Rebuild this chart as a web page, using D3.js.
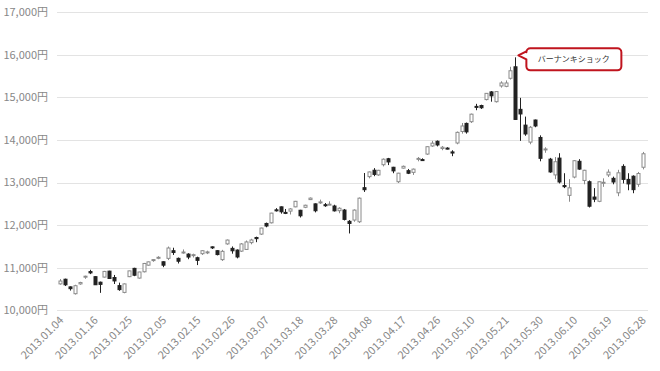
<!DOCTYPE html>
<html>
<head>
<meta charset="UTF-8">
<title>日経平均 2013</title>
<style>
  body { margin: 0; background: #fff; }
  svg text { font-family: "Noto Sans CJK JP", sans-serif; }
  .ylab { font-size: 11px; fill: #888; }
  .xlab { font-size: 11px; fill: #888; }
  .grid line { stroke: #e3e3e3; stroke-width: 1; }
</style>
<script src="https://d3js.org/d3.v7.min.js"></script>
</head>
<body>
<svg width="660" height="371"></svg>
<script>
// trading days (Nikkei 225, Jan-Jun 2013)
var dates = [
  "2013.01.04","2013.01.07","2013.01.08","2013.01.09","2013.01.10","2013.01.11","2013.01.15","2013.01.16","2013.01.17","2013.01.18",
  "2013.01.21","2013.01.22","2013.01.23","2013.01.24","2013.01.25","2013.01.28","2013.01.29","2013.01.30","2013.01.31","2013.02.01",
  "2013.02.04","2013.02.05","2013.02.06","2013.02.07","2013.02.08","2013.02.12","2013.02.13","2013.02.14","2013.02.15","2013.02.18",
  "2013.02.19","2013.02.20","2013.02.21","2013.02.22","2013.02.25","2013.02.26","2013.02.27","2013.02.28","2013.03.01","2013.03.04",
  "2013.03.05","2013.03.06","2013.03.07","2013.03.08","2013.03.11","2013.03.12","2013.03.13","2013.03.14","2013.03.15","2013.03.18",
  "2013.03.19","2013.03.21","2013.03.22","2013.03.25","2013.03.26","2013.03.27","2013.03.28","2013.03.29","2013.04.01","2013.04.02",
  "2013.04.03","2013.04.04","2013.04.05","2013.04.08","2013.04.09","2013.04.10","2013.04.11","2013.04.12","2013.04.15","2013.04.16",
  "2013.04.17","2013.04.18","2013.04.19","2013.04.22","2013.04.23","2013.04.24","2013.04.25","2013.04.26","2013.04.30","2013.05.01",
  "2013.05.02","2013.05.07","2013.05.08","2013.05.09","2013.05.10","2013.05.13","2013.05.14","2013.05.15","2013.05.16","2013.05.17",
  "2013.05.20","2013.05.21","2013.05.22","2013.05.23","2013.05.24","2013.05.27","2013.05.28","2013.05.29","2013.05.30","2013.05.31",
  "2013.06.03","2013.06.04","2013.06.05","2013.06.06","2013.06.07","2013.06.10","2013.06.11","2013.06.12","2013.06.13","2013.06.14",
  "2013.06.17","2013.06.18","2013.06.19","2013.06.20","2013.06.21","2013.06.24","2013.06.25","2013.06.26","2013.06.27","2013.06.28"
];
var open = [
  10620,10730,10550,10390,10620,10780,10910,10790,10660,10780,
  10920,10770,10580,10420,10790,10985,10757,10905,11060,11170,
  11240,11140,11220,11400,11220,11360,11320,11290,11235,11330,
  11370,11490,11400,11190,11560,11455,11415,11390,11430,11590,
  11710,11790,12040,12055,12360,12430,12300,12330,12430,12350,
  12420,12600,12500,12540,12480,12490,12450,12340,12355,12090,
  12120,12080,12880,13140,13290,13180,13420,13560,13360,13020,
  13340,13280,13240,13550,13540,13670,13860,13970,13800,13810,
  13720,13930,14200,14390,14430,14790,14810,14950,15130,14900,
  15270,15260,15450,15720,14720,14350,13950,14470,14060,13780,
  13550,13180,13575,12930,12700,13130,13500,13050,13020,12660,
  12560,13000,13180,13100,12760,13380,13075,13150,12960,13360
];
var high = [
  10734,10743,10560,10600,10670,10813,10952,10800,10674,10926,
  10929,10830,10650,10632,10930,10999,10905,11113,11145,11200,
  11270,11150,11498,11470,11240,11430,11340,11330,11260,11410,
  11400,11500,11410,11420,11662,11500,11430,11580,11640,11680,
  11730,11940,12060,12290,12400,12440,12380,12400,12570,12360,
  12480,12650,12510,12600,12520,12560,12480,12420,12380,12120,
  12370,12650,13225,13260,13340,13300,13568,13580,13370,13230,
  13400,13320,13330,13600,13570,13850,13980,13990,13860,13830,
  13760,14200,14400,14410,14620,14850,14830,15100,15150,15140,
  15380,15400,15720,15942,14990,14550,14330,14480,14110,13830,
  13580,13600,13690,13220,13080,13530,13550,13300,13050,12870,
  13020,13100,13310,13140,13300,13430,13220,13170,13250,13720
];
var low = [
  10602,10570,10463,10370,10600,10740,10850,10594,10410,10770,
  10742,10618,10458,10400,10780,10802,10743,10890,11048,11140,
  11200,11013,11180,11300,11100,11330,11200,11240,11062,11300,
  11320,11440,11290,11160,11540,11330,11220,11370,11420,11550,
  11600,11770,11950,12040,12320,12270,12260,12250,12420,12180,
  12400,12590,12300,12500,12430,12470,12320,12280,12110,11805,
  12080,12050,12780,13100,13150,13160,13380,13411,13220,12990,
  13330,13200,13180,13500,13510,13650,13840,13850,13760,13780,
  13620,13900,14150,14150,14400,14700,14730,14930,14900,14880,
  15230,15240,15420,14470,13980,14100,13900,14300,13500,13700,
  13230,13080,12980,12870,12550,13100,13300,12960,12415,12540,
  12540,12900,13130,12960,12680,12980,12820,12750,12900,13310
];
var close = [
  10688,10599,10508,10578,10652,10801,10879,10600,10609,10913,
  10747,10690,10486,10620,10926,10824,10900,11100,11138,11191,
  11245,11060,11463,11357,11153,11369,11251,11307,11173,11400,
  11372,11468,11309,11385,11650,11398,11253,11559,11606,11652,
  11683,11932,11980,12283,12349,12314,12290,12381,12560,12220,
  12468,12635,12338,12546,12471,12493,12336,12397,12135,12040,
  12354,12634,12833,13250,13192,13288,13549,13485,13275,13221,
  13382,13220,13316,13568,13529,13843,13926,13884,13830,13799,
  13694,14180,14330,14191,14607,14782,14758,15096,15037,15138,
  15340,15340,15627,14483,14612,14142,14300,14330,13570,13790,
  13250,13490,13014,12904,12877,13514,13317,13289,12445,12610,
  13020,13007,13245,13014,13230,13075,12969,12834,13213,13677
];
var yTicks = [10000, 11000, 12000, 13000, 14000, 15000, 16000, 17000];
var labelEvery = 7;
var note = { date: "2013.05.23", text: "バーナンキショック" };

var svg = d3.select("svg");

var x = d3.scaleBand().domain(dates).range([58, 645]).padding(0);
var y = d3.scaleLinear().domain([10000, 17000]).range([310.3, 12.3]);
var cx = function (d) { return x(d) + x.bandwidth() / 2; };

// horizontal grid
svg.append("g").attr("class", "grid")
  .selectAll("line").data(yTicks).enter().append("line")
  .attr("x1", 57).attr("x2", 648)
  .attr("y1", function (d) { return Math.round(y(d)) + 0.5; })
  .attr("y2", function (d) { return Math.round(y(d)) + 0.5; });

// y labels
svg.append("g").selectAll("text").data(yTicks).enter().append("text")
  .attr("class", "ylab")
  .attr("x", 48)
  .attr("y", function (d) { return y(d); })
  .attr("dy", "0.35em")
  .attr("text-anchor", "end")
  .text(function (d) { return d3.format(",")(d) + "円"; });

// x labels
var xTickVals = dates.filter(function (d, i) { return i % labelEvery === 0; });
svg.append("g").selectAll("text").data(xTickVals).enter().append("text")
  .attr("class", "xlab")
  .attr("text-anchor", "end")
  .attr("transform", function (d) { return "translate(" + (cx(d) + 4) + ",321) rotate(-45)"; })
  .text(function (d) { return d; });

// candles
var rows = dates.map(function (d, i) {
  return { date: d, o: open[i], h: high[i], l: low[i], c: close[i] };
});
var bodyW = 3;
var candle = svg.append("g").selectAll("g").data(rows).enter().append("g");

candle.append("line")
  .attr("x1", function (d) { return Math.round(cx(d.date)) + 0.5; })
  .attr("x2", function (d) { return Math.round(cx(d.date)) + 0.5; })
  .attr("y1", function (d) { return y(d.h); })
  .attr("y2", function (d) { return y(d.l); })
  .attr("stroke", function (d) { return d.c >= d.o ? "#8a8a8a" : "#222"; })
  .attr("stroke-width", 1);

candle.append("rect")
  .attr("x", function (d) { return Math.round(cx(d.date)) + 0.5 - bodyW / 2; })
  .attr("y", function (d) { return y(Math.max(d.o, d.c)); })
  .attr("width", bodyW)
  .attr("height", function (d) { return Math.max(1, Math.abs(y(d.o) - y(d.c))); })
  .attr("fill", function (d) { return d.c >= d.o ? "#fff" : "#222"; })
  .attr("stroke", function (d) { return d.c >= d.o ? "#8a8a8a" : "#222"; })
  .attr("stroke-width", 1);

// callout
var i0 = dates.indexOf(note.date);
var tx = cx(note.date) + 3, ty = y(high[i0]) - 2;
var bx = tx + 8, by = ty - 7, bw = 95, bh = 22, r = 4;
var p = d3.path();
p.moveTo(tx, ty);
p.lineTo(bx, by + 3);
p.lineTo(bx, by + r);
p.arcTo(bx, by, bx + r, by, r);
p.lineTo(bx + bw - r, by);
p.arcTo(bx + bw, by, bx + bw, by + r, r);
p.lineTo(bx + bw, by + bh - r);
p.arcTo(bx + bw, by + bh, bx + bw - r, by + bh, r);
p.lineTo(bx + r, by + bh);
p.arcTo(bx, by + bh, bx, by + bh - r, r);
p.lineTo(bx, by + 11);
p.closePath();
svg.append("path").attr("d", p.toString())
  .attr("fill", "#fff").attr("stroke", "#c0141e").attr("stroke-width", 2)
  .attr("stroke-linejoin", "round");
svg.append("text")
  .attr("x", bx + bw / 2).attr("y", by + bh / 2)
  .attr("dy", "0.35em").attr("text-anchor", "middle")
  .attr("font-size", 8).attr("fill", "#333")
  .text(note.text);
</script>
</body>
</html>
